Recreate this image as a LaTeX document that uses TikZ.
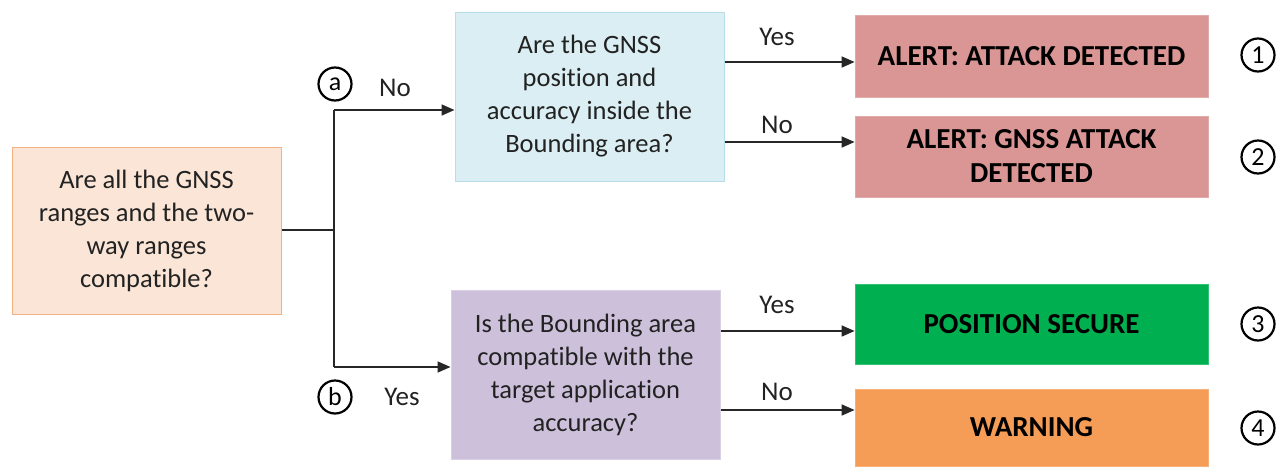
\documentclass[tikz,border=0pt]{standalone}
\usepackage{fontspec}
\setmainfont{Carlito}[Ligatures=NoCommon]
\usetikzlibrary{arrows.meta,calc}
\definecolor{peachfill}{HTML}{FBE5D6}
\definecolor{peachline}{HTML}{F4B183}
\definecolor{bluefill}{HTML}{DAEEF3}
\definecolor{blueline}{HTML}{B7DDE8}
\definecolor{lilacfill}{HTML}{CCC0DA}
\definecolor{lilacline}{HTML}{D9D0E4}
\definecolor{alertfill}{HTML}{DA9694}
\definecolor{securefill}{HTML}{00B050}
\definecolor{warnfill}{HTML}{F59D56}
\definecolor{inktext}{HTML}{222222}
\tikzset{
  question/.style={draw=#1, line width=1pt, minimum width=269pt, minimum height=168pt,
    align=center, font=\fontsize{26.5}{33}\selectfont, text=inktext, inner sep=0pt},
  outcome/.style={fill=#1, draw=#1!80!white, line width=0.8pt, minimum width=353pt,
    align=center, font=\fontsize{29}{34}\selectfont\bfseries, text=black, inner sep=0pt},
  marker/.style={circle, draw=black, line width=2.2pt, minimum size=33pt, inner sep=0pt,
    font=\fontsize{26}{28}\selectfont},
  lbl/.style={font=\fontsize{27}{30}\selectfont, text=inktext, inner sep=0pt},
  link/.style={draw=black!85, line width=1.6pt},
  arr/.style={link, -{Triangle[length=13pt,width=11pt]}}
}
\begin{document}
\begin{tikzpicture}[x=1pt,y=-1pt]
\useasboundingbox (0,0) rectangle (1276,466);

% decision boxes
\node[question=peachline, fill=peachfill, minimum height=167pt] (root) at (146.5,230.5)
  {Are all the GNSS\\ranges and the two-\\way ranges\\compatible?};
\node[question=blueline, fill=bluefill, minimum height=169pt] (inside) at (589.5,96.5)
  {Are the GNSS\\position and\\accuracy inside the\\Bounding area?};
\node[question=lilacline, fill=lilacfill, minimum height=169pt] (compat) at (585.5,374.5)
  {Is the Bounding area\\compatible with the\\target application\\accuracy?};

% outcome boxes
\node[outcome=alertfill, minimum height=82pt] (r1) at (1031.5,56) {ALERT: ATTACK DETECTED};
\node[outcome=alertfill, minimum height=81pt] (r2) at (1031.5,156.5) {ALERT: GNSS ATTACK\\DETECTED};
\node[outcome=securefill, minimum height=80pt] (r3) at (1031.5,324) {POSITION SECURE};
\node[outcome=warnfill, minimum height=77pt] (r4) at (1031.5,427.5) {WARNING};

% branch markers
\node[marker] (ma) at (335,84) {a};
\node[marker] (mb) at (335,397) {b};
\node[marker] (m1) at (1258,55) {1};
\node[marker] (m2) at (1258,157) {2};
\node[marker] (m3) at (1258,324) {3};
\node[marker] (m4) at (1258,428) {4};

% splitting connector from the first question
\coordinate (j) at (334,230);
\coordinate (ja) at (334,110);
\coordinate (jb) at (334,367);
\draw[link] (root.east |- j) -- (j);
\draw[link] (ja) -- (jb);
\draw[arr] (ja) -- (ja -| inside.west);
\draw[arr] (jb) -- (jb -| compat.west);
\node[lbl] at (395,88) {No};
\node[lbl] at (402,397) {Yes};

% outcome connectors
\draw[arr] (inside.east |- 0,62) -- (r1.west |- 0,62);
\draw[arr] (inside.east |- 0,142) -- (r2.west |- 0,142);
\draw[arr] (compat.east |- 0,331) -- (r3.west |- 0,331);
\draw[arr] (compat.east |- 0,410) -- (r4.west |- 0,410);
\node[lbl] at (777,37) {Yes};
\node[lbl] at (777,125) {No};
\node[lbl] at (777,305) {Yes};
\node[lbl] at (777,392) {No};
\end{tikzpicture}
\end{document}
